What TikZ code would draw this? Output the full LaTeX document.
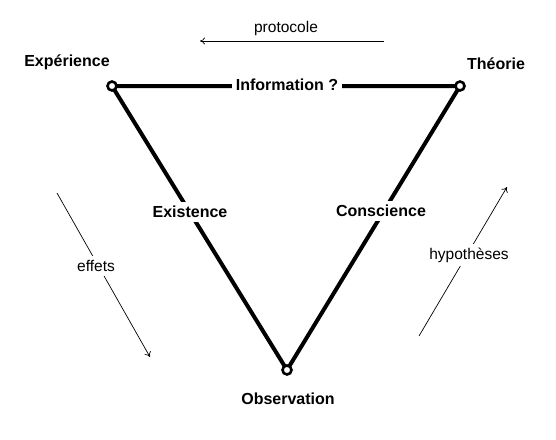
\documentclass[tikz,border=0pt]{standalone}
\usepackage{fontspec}
\setmainfont{Liberation Sans}
\usetikzlibrary{arrows.meta}
\begin{document}
\begin{tikzpicture}[x=1pt,y=-1pt,
  vertex/.style={circle,draw,fill=white,line width=2.6pt,minimum size=9pt,inner sep=0pt},
  edge/.style={line width=4pt},
  lbl/.style={font=\fontsize{16}{19}\selectfont\bfseries,inner sep=0pt},
  onlbl/.style={lbl,fill=white,inner sep=4pt},
  side/.style={font=\fontsize{15.5}{18}\selectfont,inner sep=0pt},
  sidefill/.style={side,fill=white,inner sep=4pt},
  arr/.style={line width=0.7pt,-{To[length=5pt,width=7pt]}}]
\useasboundingbox (0,0) rectangle (556,439);
\coordinate (E) at (112,86);
\coordinate (T) at (460,86);
\coordinate (O) at (287,370);
\draw[edge] (E) -- (T) -- (O) -- cycle;
\node[vertex] (ve) at (E) {};
\node[vertex] (vt) at (T) {};
\node[vertex] (vo) at (O) {};
\node[lbl] (exp) at (67,62) {Expérience};
\node[lbl] (the) at (496,64) {Théorie};
\node[lbl] (obs) at (288,399) {Observation};
\node[onlbl] (inf) at (287,85) {Information ?};
\node[onlbl] (exi) at (190,212) {Existence};
\node[onlbl] (con) at (381,211) {Conscience};
% protocole
\coordinate (p1) at (384,41);
\coordinate (p2) at (200,41);
\draw[arr] (p1) -- (p2);
\node[side] (pro) at (286,28) {protocole};
% effets
\coordinate (e1) at (57,193);
\coordinate (e2) at (150,357);
\draw[arr] (e1) -- (e2);
\node[sidefill] (eff) at (96,266) {effets};
% hypotheses
\coordinate (h1) at (419,336);
\coordinate (h2) at (507,187);
\draw[arr] (h1) -- (h2);
\node[sidefill] (hyp) at (469,255) {hypothèses};
\end{tikzpicture}
\end{document}
